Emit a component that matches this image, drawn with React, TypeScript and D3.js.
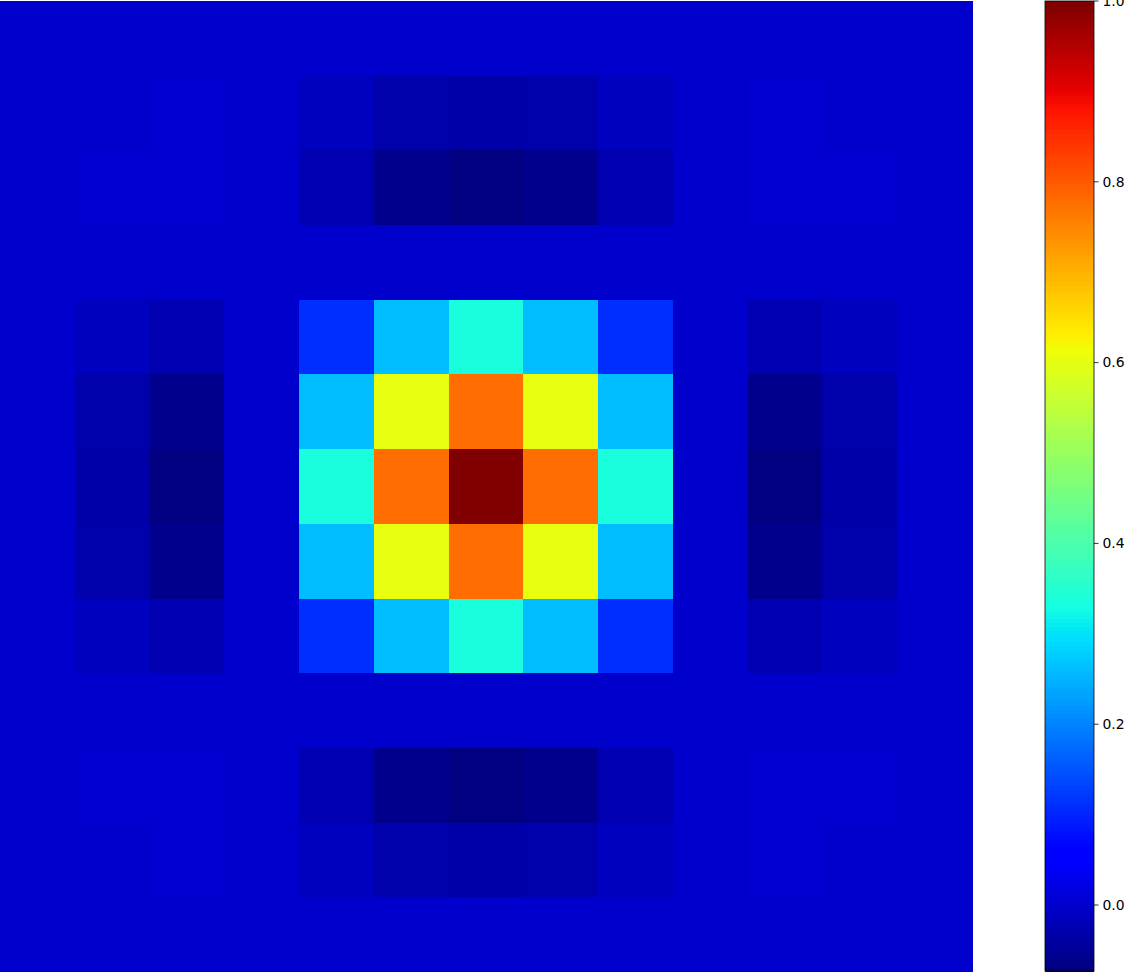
import React from "react";
import * as d3 from "d3";

// 13x13 grid values (row 0 = top)
const rowLabels = d3.range(13);
const colLabels = d3.range(13);

const values: number[][] = [
  [0, 0, 0, 0, 0, 0, 0, 0, 0, 0, 0, 0, 0],
  [0, 0.001, 0.003, 0, -0.012, -0.027, -0.035, -0.027, -0.012, 0, 0.003, 0.001, 0],
  [0, 0.003, 0.005, 0, -0.025, -0.057, -0.073, -0.057, -0.025, 0, 0.005, 0.003, 0],
  [0, 0, 0, 0, 0, 0, 0, 0, 0, 0, 0, 0, 0],
  [0, -0.012, -0.025, 0, 0.111, 0.261, 0.336, 0.261, 0.111, 0, -0.025, -0.012, 0],
  [0, -0.027, -0.057, 0, 0.261, 0.603, 0.781, 0.603, 0.261, 0, -0.057, -0.027, 0],
  [0, -0.035, -0.073, 0, 0.336, 0.781, 1.0, 0.781, 0.336, 0, -0.073, -0.035, 0],
  [0, -0.027, -0.057, 0, 0.261, 0.603, 0.781, 0.603, 0.261, 0, -0.057, -0.027, 0],
  [0, -0.012, -0.025, 0, 0.111, 0.261, 0.336, 0.261, 0.111, 0, -0.025, -0.012, 0],
  [0, 0, 0, 0, 0, 0, 0, 0, 0, 0, 0, 0, 0],
  [0, 0.003, 0.005, 0, -0.025, -0.057, -0.073, -0.057, -0.025, 0, 0.005, 0.003, 0],
  [0, 0.001, 0.003, 0, -0.012, -0.027, -0.035, -0.027, -0.012, 0, 0.003, 0.001, 0],
  [0, 0, 0, 0, 0, 0, 0, 0, 0, 0, 0, 0, 0],
];

const colorbarTicks = [0.0, 0.2, 0.4, 0.6, 0.8, 1.0];

// matplotlib "jet" segment data
const jetR: [number, number][] = [[0, 0], [0.35, 0], [0.66, 1], [0.89, 1], [1, 0.5]];
const jetG: [number, number][] = [[0, 0], [0.125, 0], [0.375, 1], [0.64, 1], [0.91, 0], [1, 0]];
const jetB: [number, number][] = [[0, 0.5], [0.11, 1], [0.34, 1], [0.65, 0], [1, 0]];

function seg(s: [number, number][], t: number) {
  for (let i = 1; i < s.length; i++) {
    if (t <= s[i][0]) {
      const [x0, y0] = s[i - 1];
      const [x1, y1] = s[i];
      return y0 + ((t - x0) / (x1 - x0)) * (y1 - y0);
    }
  }
  return s[s.length - 1][1];
}
function jet(t: number) {
  t = Math.max(0, Math.min(1, t));
  // quantize to 256-entry LUT like matplotlib
  t = Math.min(255, Math.floor(t * 256)) / 255;
  const r = Math.round(seg(jetR, t) * 255);
  const g = Math.round(seg(jetG, t) * 255);
  const b = Math.round(seg(jetB, t) * 255);
  return `rgb(${r},${g},${b})`;
}

export default function App() {
  const flat = values.flat();
  const vmin = d3.min(flat) as number;
  const vmax = d3.max(flat) as number;
  const color = d3.scaleSequential(jet).domain([vmin, vmax]);

  const x = d3.scaleBand<number>().domain(colLabels).range([0, 972]).padding(0);
  const y = d3.scaleBand<number>().domain(rowLabels).range([1, 972]).padding(0);

  const cbX = 1045;
  const cbW = 49;
  const cbTop = 1;
  const cbBottom = 971;
  const cbScale = d3.scaleLinear().domain([vmin, vmax]).range([cbBottom, cbTop]);
  const steps = d3.range(256);
  const stepH = (cbBottom - cbTop) / 256;
  const fmt = d3.format(".1f");

  return (
    <svg
      width={1126}
      height={972}
      style={{ position: "absolute", left: 0, top: 0, background: "#fff" }}
    >
      <g shapeRendering="crispEdges">
        {values.map((row, ri) =>
          row.map((v, ci) => (
            <rect
              key={`${ri}-${ci}`}
              x={x(ci)}
              y={y(ri)}
              width={x.bandwidth() + 0.5}
              height={y.bandwidth() + 0.5}
              fill={color(v)}
            />
          ))
        )}
      </g>
      <g shapeRendering="crispEdges">
        {steps.map((i) => {
          const v0 = vmin + ((vmax - vmin) * i) / 256;
          const v1 = vmin + ((vmax - vmin) * (i + 1)) / 256;
          const yTop = cbScale(v1);
          return (
            <rect
              key={i}
              x={cbX}
              y={yTop}
              width={cbW}
              height={stepH + 0.6}
              fill={color((v0 + v1) / 2)}
            />
          );
        })}
      </g>
      <rect
        x={cbX}
        y={cbTop}
        width={cbW}
        height={cbBottom - cbTop}
        fill="none"
        stroke="#000"
        strokeWidth={0.8}
      />
      <g fontFamily="DejaVu Sans" fontSize={13.9} fill="#000">
        {colorbarTicks.map((t) => (
          <g key={t} transform={`translate(${cbX + cbW},${cbScale(t)})`}>
            <line x1={0} x2={4.5} y1={0} y2={0} stroke="#000" strokeWidth={0.8} />
            <text x={8.5} dy="0.35em">
              {fmt(t)}
            </text>
          </g>
        ))}
      </g>
    </svg>
  );
}
